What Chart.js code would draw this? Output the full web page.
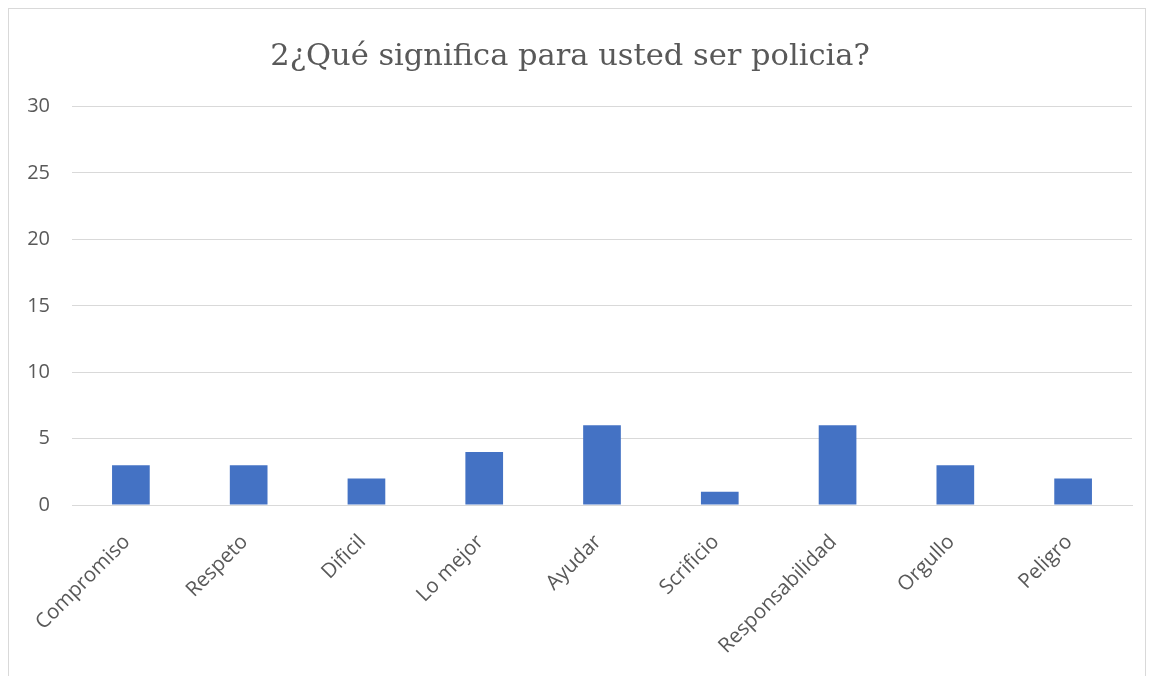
<!DOCTYPE html>
<html>
<head>
<meta charset="utf-8">
<script src="https://cdn.jsdelivr.net/npm/chart.js@4"></script>
<style>
html,body{margin:0;padding:0;background:#fff;}
#wrap{position:relative;width:1151px;height:676px;}
#frame{position:absolute;left:8px;top:8px;width:1138px;height:672px;border:1px solid #d9d9d9;box-sizing:border-box;}
canvas{position:absolute;left:0;top:0;}
</style>
</head>
<body>
<div id="wrap">
<div id="frame"></div>
<canvas id="c" width="1151" height="676"></canvas>
</div>
<script>
const titleText = "2¿Qué significa para usted ser policia?";
const categories = ["Compromiso","Respeto","Dificil","Lo mejor","Ayudar","Scrificio","Responsabilidad","Orgullo","Peligro"];
const values = [3,3,2,4,6,1,6,3,2];
const yTicks = [0,5,10,15,20,25,30];

new Chart(document.getElementById('c'), {
  type: 'bar',
  data: {
    labels: categories,
    datasets: [{
      data: values,
      backgroundColor: '#4472c4',
      borderWidth: 0,
      categoryPercentage: 1,
      barPercentage: 0.32
    }]
  },
  options: {
    responsive: false,
    animation: false,
    layout: { padding: { left: 8, right: 19, top: 10, bottom: 0 } },
    plugins: {
      legend: { display: false },
      tooltip: { enabled: false },
      title: {
        display: true,
        text: titleText,
        color: '#595959',
        font: { family: 'DejaVu Serif', size: 30.5, weight: 'normal' },
        padding: { top: 29, bottom: 31 }
      }
    },
    scales: {
      x: {
        grid: { display: false, drawTicks: false },
        border: { display: true, color: '#d9d9d9' },
        ticks: {
          color: '#595959',
          font: { family: 'Open Sans', size: 20.5 },
          maxRotation: 45, minRotation: 45,
          padding: 25,
          labelOffset: -4,
          autoSkip: false
        },
        afterFit: s => { s.height = 171; }
      },
      y: {
        min: 0, max: 30,
        afterBuildTicks: s => { s.ticks = yTicks.map(v => ({ value: v })); },
        grid: { color: '#d9d9d9', drawTicks: false },
        border: { display: false },
        ticks: {
          color: '#595959',
          font: { family: 'Open Sans', size: 20 },
          padding: 22
        },
        afterFit: s => { s.width = 64; }
      }
    }
  }
});
</script>
</body>
</html>
